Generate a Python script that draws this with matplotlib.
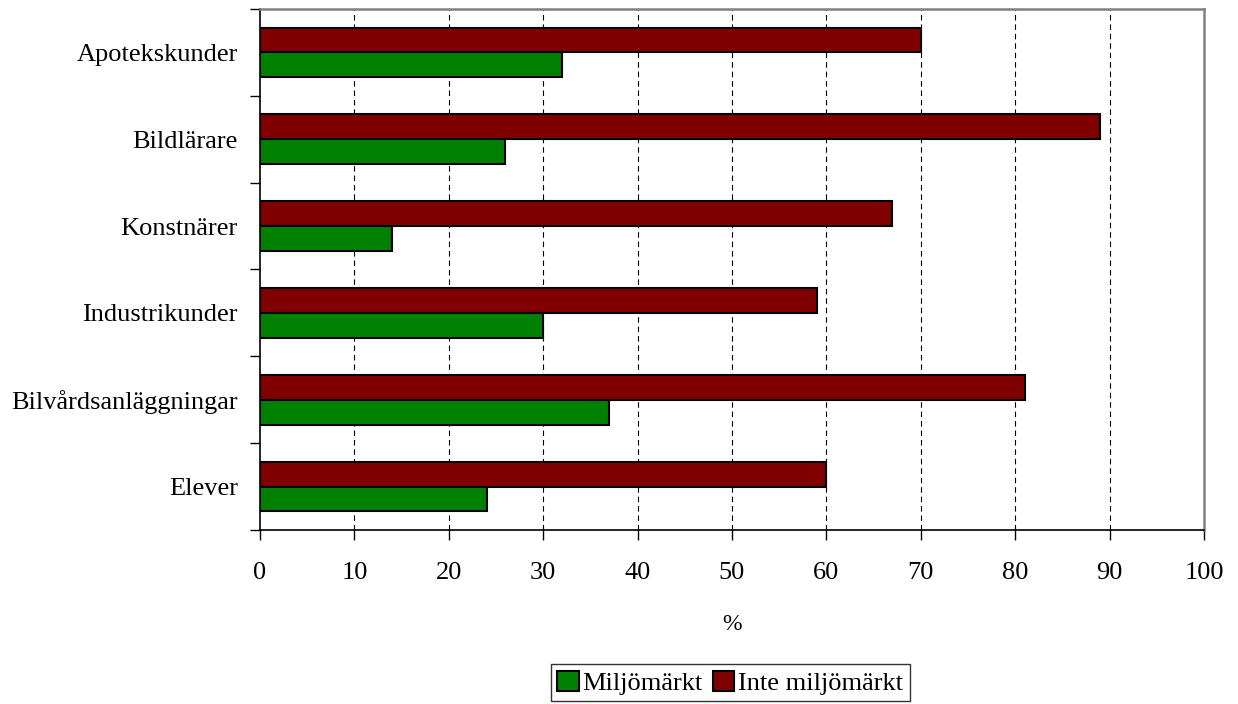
import numpy as np
import matplotlib
matplotlib.use("Agg")
import matplotlib.pyplot as plt
from matplotlib.patches import Patch

# data
categories = ["Apotekskunder", "Bildlärare", "Konstnärer",
              "Industrikunder", "Bilvårdsanläggningar", "Elever"]
miljomarkt = [32, 26, 14, 30, 37, 24]
inte_miljomarkt = [70, 89, 67, 59, 81, 60]
x_ticks = list(range(0, 101, 10))

GREEN = "#008000"
RED = "#800000"

plt.rcParams["font.family"] = ["Liberation Serif", "DejaVu Serif"]

fig = plt.figure(figsize=(12.38, 7.04), dpi=100)
ax = fig.add_axes([0.210, 0.2472, 0.7625, 0.740])

n = len(categories)
pos = np.arange(n)[::-1]   # first category on top
h = 0.287

ax.barh(pos + h / 2, inte_miljomarkt, height=h, color=RED,
        edgecolor="black", linewidth=1.5, zorder=3)
ax.barh(pos - h / 2, miljomarkt, height=h, color=GREEN,
        edgecolor="black", linewidth=1.5, zorder=3)

ax.set_xlim(0, 100)
ax.set_ylim(-0.5, n - 0.5)

ax.set_xticks(x_ticks)
ax.tick_params(axis="x", direction="out", length=7, width=1,
               labelsize=19, pad=16)

# labels at the centre, ticks on the boundaries
ax.set_yticks(pos)
ax.set_yticklabels(categories)
ax.tick_params(axis="y", which="major", length=0, labelsize=19, pad=16)
ax.set_yticks(np.arange(n + 1) - 0.5, minor=True)
ax.tick_params(axis="y", which="minor", direction="out", length=7, width=1)

for v in x_ticks[1:-1]:
    ax.axvline(v, color="black", linestyle=(0, (5, 3.5)), linewidth=0.8, zorder=1)

for side in ["top", "right"]:
    ax.spines[side].set_color("#808080")
    ax.spines[side].set_linewidth(1.8)
for side in ["left", "bottom"]:
    ax.spines[side].set_color("black")
    ax.spines[side].set_linewidth(1.2)

ax.set_xlabel("%", fontsize=17, labelpad=22)

handles = [Patch(facecolor=GREEN, edgecolor="black", linewidth=1.5),
           Patch(facecolor=RED, edgecolor="black", linewidth=1.5)]
leg = fig.legend(handles, ["Miljömärkt", "Inte miljömärkt"],
                 loc="lower center", bbox_to_anchor=(0.59, 0.0), ncol=2,
                 fontsize=19, frameon=True, fancybox=False,
                 handlelength=0.8, handleheight=0.8, handletextpad=0.15,
                 columnspacing=0.4, borderpad=0.25, borderaxespad=0.1)
leg.get_frame().set_edgecolor("black")
leg.get_frame().set_linewidth(1.0)

fig.savefig("out.png", dpi=100, facecolor="white")
